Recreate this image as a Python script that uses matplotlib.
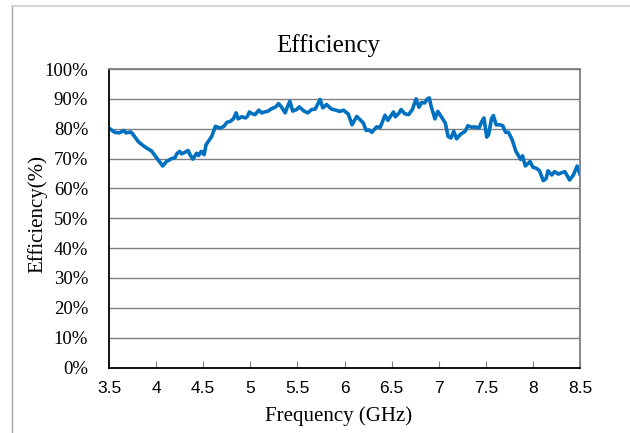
import matplotlib.pyplot as plt
from matplotlib.lines import Line2D
from matplotlib.ticker import FuncFormatter

# Datos
freq_ghz = [3.50, 3.56, 3.61, 3.66, 3.68, 3.73, 3.75, 3.81, 3.86, 3.91,
            3.95, 3.99, 4.02, 4.07, 4.11, 4.16, 4.20, 4.22, 4.25, 4.27,
            4.30, 4.34, 4.36, 4.39, 4.43, 4.45, 4.48, 4.51, 4.53, 4.59,
            4.63, 4.68, 4.72, 4.75, 4.79, 4.82, 4.85, 4.87, 4.91, 4.95,
            4.97, 4.99, 5.02, 5.05, 5.09, 5.12, 5.15, 5.19, 5.22, 5.27,
            5.30, 5.33, 5.37, 5.39, 5.42, 5.45, 5.49, 5.52, 5.57, 5.61,
            5.65, 5.69, 5.74, 5.77, 5.81, 5.86, 5.91, 5.95, 5.99, 6.04,
            6.08, 6.13, 6.16, 6.20, 6.23, 6.26, 6.29, 6.34, 6.38, 6.43,
            6.46, 6.52, 6.54, 6.58, 6.60, 6.64, 6.68, 6.72, 6.76, 6.79,
            6.82, 6.85, 6.88, 6.90, 6.92, 6.96, 6.99, 7.02, 7.07, 7.10,
            7.13, 7.16, 7.19, 7.23, 7.28, 7.31, 7.35, 7.38, 7.43, 7.45,
            7.48, 7.51, 7.53, 7.56, 7.58, 7.61, 7.65, 7.68, 7.71, 7.74,
            7.78, 7.82, 7.87, 7.89, 7.92, 7.97, 8.00, 8.04, 8.07, 8.11,
            8.14, 8.16, 8.20, 8.23, 8.27, 8.30, 8.34, 8.39, 8.43, 8.47,
            8.50]
eff_pct = [80.2, 78.8, 78.6, 79.4, 78.6, 78.9, 78.3, 75.7, 74.4, 73.3,
           72.6, 70.9, 69.6, 67.5, 69.0, 69.9, 70.3, 71.6, 72.4, 71.6,
           72.0, 72.7, 71.3, 69.8, 71.8, 71.0, 72.4, 71.3, 74.6, 77.4,
           80.8, 80.2, 80.8, 82.1, 82.5, 83.3, 85.3, 83.3, 84.0, 83.6,
           84.2, 85.6, 85.0, 84.7, 86.2, 85.3, 85.6, 85.9, 86.6, 87.3,
           88.4, 87.3, 85.3, 87.0, 89.2, 85.9, 86.4, 87.3, 85.9, 85.3,
           86.4, 86.6, 89.8, 87.0, 88.1, 86.6, 86.2, 85.8, 86.2, 84.9,
           81.3, 84.1, 83.2, 81.9, 79.4, 79.6, 78.8, 80.6, 80.5, 84.5,
           82.8, 85.6, 84.0, 85.3, 86.4, 85.0, 84.7, 86.4, 90.0, 87.2,
           88.8, 88.6, 90.0, 90.3, 87.5, 83.3, 85.8, 84.4, 81.9, 77.4,
           76.9, 79.1, 76.6, 78.1, 79.1, 81.0, 80.5, 80.6, 80.3, 81.9,
           83.6, 77.2, 78.0, 83.3, 84.4, 81.3, 81.3, 81.0, 78.8, 78.8,
           76.3, 72.4, 69.7, 70.9, 67.5, 69.0, 67.1, 66.7, 65.9, 62.6,
           63.3, 65.9, 64.5, 65.6, 64.8, 65.2, 65.6, 62.8, 64.5, 67.5,
           64.7]

x_ticks = [3.5, 4, 4.5, 5, 5.5, 6, 6.5, 7, 7.5, 8, 8.5]
y_ticks = list(range(0, 101, 10))

serif = 'Liberation Serif'
sans = 'Liberation Sans'

fig = plt.figure(figsize=(6.3, 4.33), dpi=100)
ax = fig.add_axes([109 / 630, 1 - 367.5 / 433, 471 / 630, 298.5 / 433])

# Curva de eficiencia
ax.plot(freq_ghz, eff_pct, color='#0070C0', linewidth=2.6, solid_joinstyle='round')

ax.set_xlim(3.5, 8.5)
ax.set_ylim(0, 100)
ax.set_xticks(x_ticks)
ax.set_yticks(y_ticks)
ax.xaxis.set_major_formatter(FuncFormatter(lambda v, p: f'{v:g}'))
ax.yaxis.set_major_formatter(FuncFormatter(lambda v, p: f'{v:.0f}%'))

for lab in ax.get_xticklabels():
    lab.set_fontfamily(sans)
    lab.set_fontsize(12.5)
for lab in ax.get_yticklabels():
    lab.set_fontfamily(serif)
    lab.set_fontsize(13.5)

ax.tick_params(axis='x', direction='in', length=5, width=0.8, color='#808080', pad=10)
ax.tick_params(axis='y', length=0, pad=15)

# Lineas de la cuadricula
ax.yaxis.grid(True, color='#808080', linewidth=1)
ax.set_axisbelow(True)

ax.spines['left'].set_color('black')
ax.spines['bottom'].set_color('black')
ax.spines['left'].set_linewidth(1.3)
ax.spines['bottom'].set_linewidth(1.3)
ax.spines['top'].set_color('#808080')
ax.spines['right'].set_color('#808080')
ax.spines['top'].set_linewidth(1.3)
ax.spines['right'].set_linewidth(1.3)

# Titulo y etiquetas
fig.text(328 / 630, 1 - 46 / 433, 'Efficiency', family=serif, fontsize=18,
         ha='center', va='center')
fig.text(339 / 630, 1 - 416 / 433, 'Frequency (GHz)', family=serif, fontsize=15,
         ha='center', va='center')
fig.text(37 / 630, 1 - 214 / 433, 'Efficiency(%)', family=serif, fontsize=15,
         ha='center', va='center', rotation=90)

# Borde de la imagen
fig.add_artist(Line2D([12 / 630, 12 / 630], [0, 1 - 5.5 / 433],
                      transform=fig.transFigure, color='#a0a0a0', linewidth=1))
fig.add_artist(Line2D([12 / 630, 1], [1 - 5.5 / 433, 1 - 5.5 / 433],
                      transform=fig.transFigure, color='#d4d4d4', linewidth=1.5))

fig.savefig('out.png', dpi=100)
